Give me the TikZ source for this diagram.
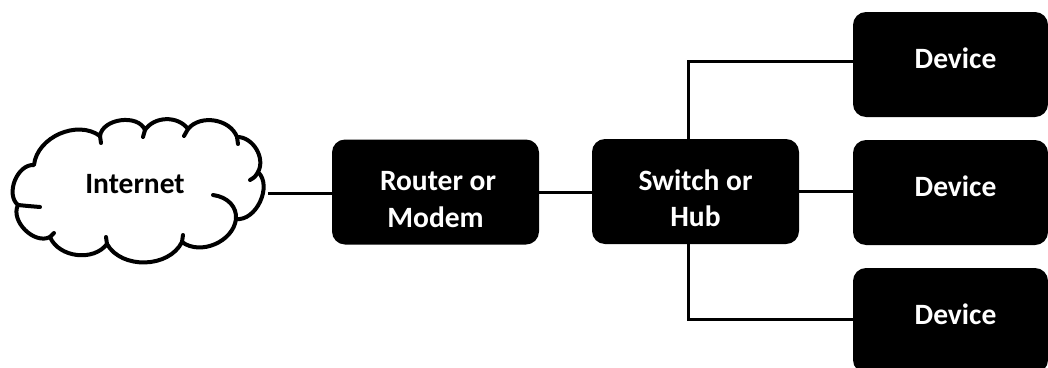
\documentclass[tikz,border=0pt]{standalone}
\usepackage{fontspec}
\setmainfont{Carlito}
\begin{document}
\begin{tikzpicture}[x=1pt,y=-1pt,
  lbl/.style={font=\bfseries\fontsize{29.5}{36.5}\selectfont},
  box/.style={lbl, fill=black, rounded corners=13pt, text=white, align=center,
              inner sep=0pt, minimum width=207pt, minimum height=105pt},
  devbox/.style={box, minimum width=195pt, text height=20pt, text depth=13pt},
  link/.style={line width=3pt},
  puff/.style={line width=4pt, line join=round, line cap=round},
]
\useasboundingbox (0,0) rectangle (1048,367);

% cloud outline points where the puffs meet
\coordinate (cA) at (34,165);
\coordinate (cB) at (100,136);
\coordinate (cC) at (145,130);
\coordinate (cD) at (188,129);
\coordinate (cE) at (237,137);
\coordinate (cF) at (258,172);
\coordinate (cG) at (236,219);
\coordinate (cH) at (182,242);
\coordinate (cI) at (107,244);
\coordinate (cJ) at (50,237);
\coordinate (cK) at (18,205);
\coordinate (cloudE) at (268,193);

\draw[puff, fill=white]
  (cA) to[bend left=60] (cB) to[bend left=75] (cC) to[bend left=55] (cD)
  to[bend left=60] (cE) to[bend left=60] (cF) to[bend left=72] (cG)
  to[bend left=60] (cH) to[bend left=62] (cI) to[bend left=60] (cJ)
  to[bend left=72] (cK) to[bend left=72] (cA) -- cycle;

% inner hooks of the puffs
\draw[puff] (cB) .. controls (101,139) .. (101,143);
\draw[puff] (cC) .. controls (144,133) .. (143,137);
\draw[puff] (cD) .. controls (186,132) .. (184,136);
\draw[puff] (cE) .. controls (238,140) .. (238,144);
\draw[puff] (cF) .. controls (255,177) .. (250,180);
\draw[puff] (213,195) .. controls (228,197) and (237,207) .. (cG);
\draw[puff] (cH) .. controls (182,239) .. (183,235);
\draw[puff] (cI) .. controls (107,241) .. (106,237);
\draw[puff] (cJ) .. controls (52,235) .. (54,233);
\draw[puff] (cK) .. controls (28,206) .. (40,207);

\node[lbl] (internet) at (135,184) {Internet};

\node[box] (router) at (435.5,192) {\rule{0pt}{34.5pt}\hspace*{5pt}Router or\\Modem};
\node[box] (switch) at (695.5,191.5) {\rule{0pt}{34.5pt}Switch or\\Hub};

\node[devbox] (dev1) at (950.5,64.5) {\hspace*{10pt}Device};
\node[devbox] (dev2) at (950.5,192.5) {\hspace*{10pt}Device};
\node[devbox] (dev3) at (950.5,320.5) {\hspace*{10pt}Device};

\draw[link] (cloudE) -- (cloudE -| router.west);
\draw[link] (router.east) -- (router.east -| switch.west);
\draw[link] (switch.east) -- (switch.east -| dev2.west);
\draw[link] ([xshift=-7.5pt]switch.north) |- ([yshift=3.5pt]dev1.west);
\draw[link] ([xshift=-7.5pt]switch.south) |- ([yshift=1.5pt]dev3.west);
\end{tikzpicture}
\end{document}
